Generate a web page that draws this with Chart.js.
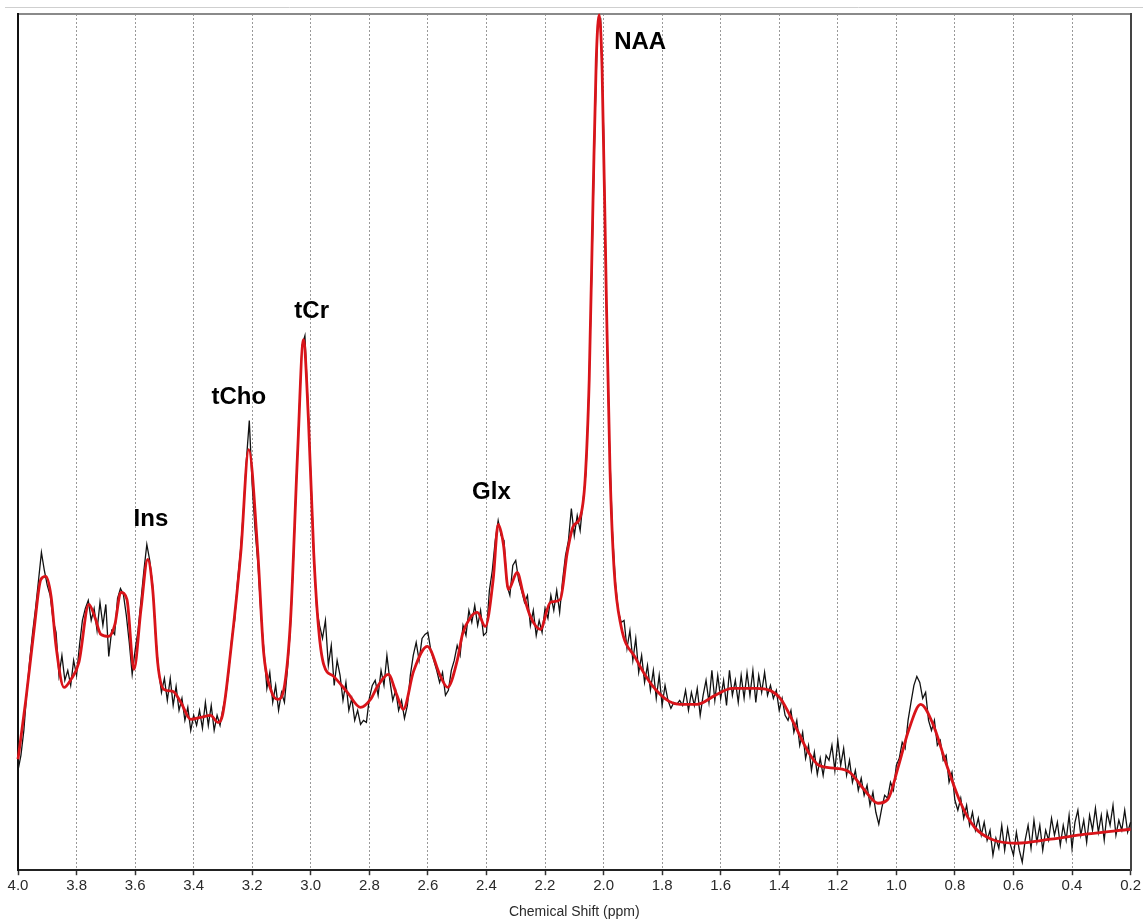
<!DOCTYPE html>
<html>
<head>
<meta charset="utf-8">
<script src="https://cdn.jsdelivr.net/npm/chart.js@4/dist/chart.umd.min.js"></script>
<style>
body { margin: 0; background: #fff; }
#wrap { width: 1143px; height: 921px; }
</style>
</head>
<body>
<div id="wrap"><canvas id="spec"></canvas></div>
<script>
// raw spectrum, sampled every 0.01 ppm from 4.00 down to 0.20
var rawStart = 4.00;
var rawStep = 0.01;
var rawSignal = [
	100,115,140,178,210,238,262,290,318,300,
	285,275,250,238,195,215,190,200,185,210,
	195,225,250,262,270,250,262,240,268,245,
	266,214,240,236,272,282,276,255,228,196,
	220,240,270,300,326,310,285,235,200,178,
	192,170,192,165,184,160,172,150,163,140,
	155,145,160,142,168,145,165,140,155,145,
	162,175,200,232,250,290,320,360,410,450,
	385,340,305,255,220,182,198,168,185,160,
	178,168,200,240,305,385,455,525,535,468,
	395,320,262,245,232,250,205,225,185,210,
	195,170,188,160,172,150,160,146,150,148,
	172,185,190,175,200,185,215,190,170,180,
	160,170,152,165,195,215,228,210,232,236,
	238,220,210,200,188,198,175,180,200,210,
	225,215,245,235,260,248,265,245,260,235,
	238,280,300,330,350,335,330,285,275,305,
	310,290,280,268,275,245,260,235,250,238,
	262,252,275,260,280,258,290,315,330,362,
	335,355,340,370,398,482,602,742,850,852,
	742,560,428,340,290,260,248,250,222,240,
	210,232,198,215,188,205,180,200,172,195,
	165,185,170,162,168,166,170,165,180,160,
	178,165,182,155,175,190,168,200,170,195,
	172,190,165,200,175,190,168,195,172,198,
	175,200,168,195,178,198,175,185,172,180,
	160,172,155,150,160,138,150,125,138,112,
	125,100,118,96,112,95,115,110,125,100,
	130,105,122,95,110,88,100,80,92,75,
	85,65,78,58,46,62,75,72,88,80,
	105,112,128,122,150,168,185,194,188,172,
	178,150,140,150,125,130,110,115,88,98,
	70,60,72,52,65,45,58,40,52,35,
	48,30,40,15,32,22,45,20,42,25,
	15,38,20,8,30,45,22,50,28,45,
	20,40,30,52,35,48,25,45,30,55,
	22,48,60,35,50,28,55,40,62,38,
	55,30,58,45,65,35,50,40,60,38,
	48
];

// fitted model (red)
var fitPpm = [
	4.000,3.973,3.945,3.922,3.905,3.887,3.870,3.843,3.819,3.792,
	3.758,3.737,3.717,3.690,3.669,3.649,3.628,3.604,3.580,3.557,
	3.540,3.523,3.502,3.471,3.444,3.410,3.376,3.342,3.318,3.301,
	3.274,3.239,3.212,3.181,3.161,3.137,3.113,3.089,3.069,3.045,
	3.025,3.008,2.990,2.973,2.956,2.922,2.875,2.830,2.796,2.772,
	2.735,2.707,2.684,2.649,2.602,2.557,2.533,2.499,2.482,2.455,
	2.431,2.404,2.377,2.360,2.342,2.325,2.295,2.274,2.250,2.216,
	2.182,2.148,2.124,2.104,2.080,2.063,2.049,2.036,2.025,2.015,
	2.005,1.991,1.978,1.964,1.940,1.892,1.834,1.776,1.739,1.681,
	1.619,1.561,1.480,1.432,1.394,1.350,1.302,1.265,1.207,1.159,
	1.111,1.063,1.029,0.992,0.958,0.917,0.876,0.828,0.780,0.733,
	0.675,0.589,0.473,0.354,0.200
];
var fitSignal = [
	111,171,241,291,294,274,224,183,191,208,
	266,253,236,234,246,278,271,201,261,311,
	281,208,181,179,168,151,153,155,148,156,
	218,318,421,318,218,181,171,186,251,418,
	531,451,318,241,206,194,178,163,171,184,
	196,176,161,199,224,194,183,211,236,253,
	258,244,291,346,326,281,298,276,254,241,
	268,271,318,344,353,391,491,671,811,856,
	801,581,401,301,244,213,185,169,166,166,
	175,182,182,180,171,147,119,105,102,98,
	81,67,71,105,140,166,147,105,67,43,
	31,27,31,36,41
];

// metabolite names and where they sit
var peakNames = ["Ins", "tCho", "tCr", "Glx", "NAA"];
var peakPpm = [3.546, 3.246, 2.997, 2.383, 1.875];
var peakLevel = [351, 473, 559, 378, 829];

var xTicks = [4.0,3.8,3.6,3.4,3.2,3.0,2.8,2.6,2.4,2.2,2.0,1.8,1.6,1.4,1.2,1.0,0.8,0.6,0.4,0.2];

function toPoints(xs, ys) {
	var out = [];
	for (var i = 0; i < ys.length; i++)
		out.push({x: xs[i], y: ys[i]});
	return out;
}

var rawPpm = [];
for (var i = 0; i < rawSignal.length; i++)
	rawPpm.push(+(rawStart - i*rawStep).toFixed(2));

// peak names + the thin grey line above the frame
var labelPlugin = {
	id: "peakNames",
	afterDraw: function(chart) {
		var ctx = chart.ctx;
		var sx = chart.scales.x, sy = chart.scales.y;
		ctx.save();
		ctx.strokeStyle = "#cfcfcf";
		ctx.lineWidth = 1;
		ctx.beginPath();
		ctx.moveTo(5, 7.5);
		ctx.lineTo(1143, 7.5);
		ctx.stroke();
		ctx.font = "bold 24px 'Liberation Sans', Arial, sans-serif";
		ctx.fillStyle = "#000";
		ctx.textAlign = "center";
		ctx.textBaseline = "middle";
		for (var i = 0; i < peakNames.length; i++)
			ctx.fillText(peakNames[i], sx.getPixelForValue(peakPpm[i]), sy.getPixelForValue(peakLevel[i]));
		ctx.restore();
	}
};

new Chart(document.getElementById("spec"), {
	type: "line",
	data: {
		datasets: [
			{
				label: "fit",
				data: toPoints(fitPpm, fitSignal),
				borderColor: "#d9141a",
				borderWidth: 2.8,
				pointRadius: 0,
				cubicInterpolationMode: "monotone",
				order: 0
			},
			{
				label: "data",
				data: toPoints(rawPpm, rawSignal),
				borderColor: "#111",
				borderWidth: 1.3,
				pointRadius: 0,
				tension: 0,
				order: 1
			}
		]
	},
	options: {
		responsive: true,
		maintainAspectRatio: false,
		animation: false,
		clip: false,
		layout: { padding: { left: 18, right: 12, top: 14, bottom: 0 } },
		plugins: { legend: { display: false }, tooltip: { enabled: false } },
		scales: {
			x: {
				type: "linear",
				reverse: true,
				min: 0.2,
				max: 4.0,
				afterBuildTicks: function(axis) {
					axis.ticks = xTicks.map(function(v){ return {value: v}; });
				},
				ticks: {
					autoSkip: false,
					maxRotation: 0,
					padding: 2,
					color: "#2a2a2a",
					font: { family: "'Liberation Sans', Arial, sans-serif", size: 15 },
					callback: function(v){ return Number(v).toFixed(1); }
				},
				grid: {
					color: "#999",
					lineWidth: 1,
					tickLength: 5,
					tickColor: "#333",
					tickWidth: 1.5
				},
				border: { display: true, color: "#222", width: 2, dash: [2, 2] },
				title: {
					display: true,
					text: "Chemical Shift (ppm)",
					color: "#2a2a2a",
					font: { family: "'Liberation Sans', Arial, sans-serif", size: 14 },
					padding: { top: 7, bottom: 0 }
				}
			},
			top: {
				type: "linear",
				position: "top",
				display: true,
				min: 0, max: 1,
				ticks: { display: false },
				grid: { display: false, drawTicks: false },
				border: { display: true, color: "#8a8a8a", width: 2 }
			},
			y: {
				min: 0,
				max: 857,
				ticks: { display: false },
				grid: { display: false, drawTicks: false },
				border: { display: true, color: "#111", width: 2 }
			},
			right: {
				type: "linear",
				position: "right",
				display: true,
				min: 0, max: 1,
				ticks: { display: false },
				grid: { display: false, drawTicks: false },
				border: { display: true, color: "#444", width: 2 }
			}
		}
	},
	plugins: [labelPlugin]
});
</script>
</body>
</html>
